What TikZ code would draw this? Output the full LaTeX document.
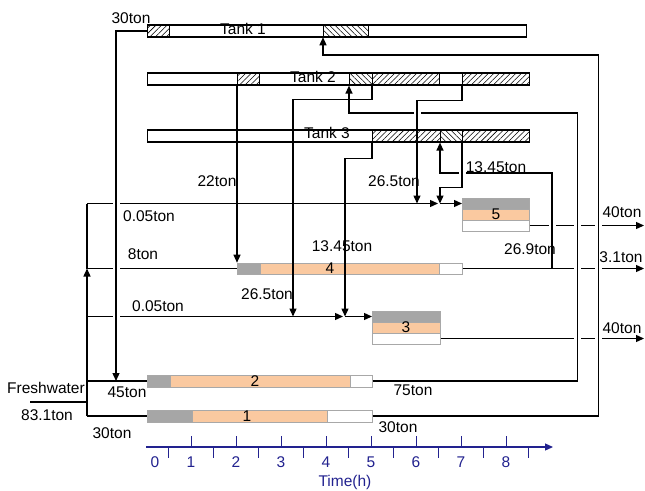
\documentclass[tikz,border=0pt]{standalone}
\usepackage{fontspec}
\setmainfont{Liberation Sans}
\usepackage{tikz}
\usetikzlibrary{arrows.meta,patterns.meta}
\definecolor{idlegray}{HTML}{A6A6A6}
\definecolor{runpeach}{HTML}{FAC9A0}
\definecolor{barline}{HTML}{A8A8A8}
\definecolor{axisblue}{HTML}{22228F}
\pgfdeclarelayer{front}
\pgfsetlayers{main,front}
\tikzset{
  tankbox/.style={draw,line width=1.2pt,minimum height=12pt,inner sep=0pt,anchor=west},
  fwdhatch/.style={tankbox,pattern={Lines[angle=45,distance=3.9pt,line width=0.55pt]}},
  bwdhatch/.style={tankbox,pattern={Lines[angle=-45,distance=3.9pt,line width=0.55pt]}},
  seg/.style={draw=barline,line width=0.6pt,inner sep=0pt,anchor=west},
  flow/.style={line width=1.3pt},
  bridge/.style={preaction={draw=white,line width=7pt,-,shorten <=6pt,shorten >=9pt}},
}

\begin{document}
\begin{tikzpicture}[x=1pt,y=-1pt,font=\fontsize{15.5pt}{18pt}\selectfont,>={Triangle[length=8pt,width=7pt]}]
  \useasboundingbox (0,0) rectangle (645,490);

  % storage tanks (kept on top)
  \begin{pgfonlayer}{front}
    \node[tankbox,minimum width=379pt] (tank1) at (147,31) {};
    \node[fwdhatch,minimum width=22pt] (t1a) at (147,31) {};
    \node[bwdhatch,minimum width=45pt] (t1b) at (323,31) {};
    \node[tankbox,minimum width=382pt] (tank2) at (147,79) {};
    \node[fwdhatch,minimum width=22pt] (t2a) at (237,79) {};
    \node[bwdhatch,minimum width=23pt] (t2b) at (349,79) {};
    \node[fwdhatch,minimum width=67pt] (t2c) at (372,79) {};
    \node[fwdhatch,minimum width=67pt] (t2d) at (462,79) {};
    \node[tankbox,minimum width=382pt] (tank3) at (147,136) {};
    \node[fwdhatch,minimum width=68pt] (t3a) at (372,136) {};
    \node[bwdhatch,minimum width=22pt] (t3b) at (440,136) {};
    \node[fwdhatch,minimum width=67pt] (t3c) at (462,136) {};
    \node (tk1) at (243,29) {Tank 1};
    \node (tk2) at (313,77) {Tank 2};
    \node (tk3) at (327,133) {Tank 3};
  \end{pgfonlayer}

  % units
  \node[seg,fill=idlegray,minimum width=45pt,minimum height=12pt] (u1g) at (147,416) {};
  \node[seg,fill=runpeach,minimum width=135pt,minimum height=12pt] (u1o) at (192,416) {};
  \node[seg,fill=white,minimum width=45pt,minimum height=12pt] (u1w) at (327,416) {};
  \node[seg,fill=idlegray,minimum width=23pt,minimum height=12pt] (u2g) at (147,381) {};
  \node[seg,fill=runpeach,minimum width=180pt,minimum height=12pt] (u2o) at (170,381) {};
  \node[seg,fill=white,minimum width=22pt,minimum height=12pt] (u2w) at (350,381) {};
  \node[seg,fill=idlegray,minimum width=23pt,minimum height=11pt] (u4g) at (237,268.5) {};
  \node[seg,fill=runpeach,minimum width=179pt,minimum height=11pt] (u4o) at (260,268.5) {};
  \node[seg,fill=white,minimum width=23pt,minimum height=11pt] (u4w) at (439,268.5) {};
  \node[seg,fill=idlegray,minimum width=68pt,minimum height=11pt] (u3g) at (372,316.5) {};
  \node[seg,fill=runpeach,minimum width=68pt,minimum height=11pt] (u3o) at (372,327.5) {};
  \node[seg,fill=white,minimum width=68pt,minimum height=11pt] (u3w) at (372,338.5) {};
  \node[seg,fill=idlegray,minimum width=67pt,minimum height=11pt] (u5g) at (462,203.5) {};
  \node[seg,fill=runpeach,minimum width=67pt,minimum height=11pt] (u5o) at (462,214.5) {};
  \node[seg,fill=white,minimum width=67pt,minimum height=11pt] (u5w) at (462,225.5) {};
  \node (n1) at (247,416) {1};
  \node (n2) at (255,381) {2};
  \node (n3) at (406,327.5) {3};
  \node (n4) at (330,268.5) {4};
  \node (n5) at (496,214.5) {5};

  \coordinate (fwin) at (30,402);
  \coordinate (sf) at (87,402);
  \coordinate (s1) at (87,416);
  \coordinate (s2) at (87,381);
  \coordinate (s3) at (87,316.5);
  \coordinate (s4) at (87,268.5);
  \coordinate (s5) at (87,203.5);
  \coordinate (a1) at (417,203.5);
  \coordinate (a2) at (293,316.5);
  \coordinate (a3) at (345,316.5);
  \coordinate (a4) at (440,203.5);
  \coordinate (a5) at (116,381);
  \coordinate (j4) at (552,268.5);
  \coordinate (o5) at (644,225.5);
  \coordinate (o4) at (644,268.5);
  \coordinate (o3) at (644,338.5);

  % freshwater and outlets
  \draw[flow] (fwin) -- (sf);
  \draw[flow] (s1) -- (s3);
  \draw[flow,->] (s3) -- (s4);
  \draw[flow] (s4) -- (s5);
  \draw[flow] (s1) -- (u1g.west);
  \draw[flow] (s2) -- (u2g.west);
  \draw[flow] (s4) -- (u4g.west);
  \draw[flow,->,shorten >=2pt] (s5) -- (a4);
  \draw[flow,->] (a4) -- (u5g.west);
  \draw[flow,->,shorten >=2pt] (s3) -- (a3);
  \draw[flow,->] (a3) -- (u3g.west);
  \draw[flow,->] (u5w.east) -- (o5);
  \draw[flow,->] (u4w.east) -- (o4);
  \draw[flow,->] (u3w.east) -- (o3);

  % reuse through the tanks
  \draw[flow,bridge,->] (u1w.east) -| ++(226,-361) -| (t1b.south west);
  \draw[flow,bridge,->] (u2w.east) -| ++(205,-268) -| (t2b.south west);
  \draw[flow,bridge,->] (j4) -- ++(0,-95.5) -| (t3b.south west);
  \draw[flow,bridge,->] (t1a.west) -| (a5);
  \draw[flow,bridge,->] (t3c.south west) -- ++(0,45) -| (a4);
  \draw[flow,bridge,->] (t2d.south west) -- ++(0,15) -| (a1);
  \draw[flow,->] (t2a.south west) -- (u4g.north west);
  \draw[flow,->] (t2c.south west) -- ++(0,14) -| (a2);
  \draw[flow,->] (t3a.south west) -- ++(0,16) -| (a3);

  % flow labels
  \node (w1) at (131,18) {30ton};
  \node (w2) at (217,181) {22ton};
  \node (w3) at (394,181) {26.5ton};
  \node (w4) at (496,167) {13.45ton};
  \node (w5) at (149,216) {0.05ton};
  \node (w6) at (143,254) {8ton};
  \node (w7) at (342,246) {13.45ton};
  \node (w8) at (267,294) {26.5ton};
  \node (w9) at (158,306) {0.05ton};
  \node (w10) at (530,249) {26.9ton};
  \node (w11) at (622,212) {40ton};
  \node (w12) at (621,257) {3.1ton};
  \node (w13) at (622,328) {40ton};
  \node (fw) at (46,388) {Freshwater};
  \node (w14) at (47,415) {83.1ton};
  \node (w15) at (127,392) {45ton};
  \node (w16) at (112,433) {30ton};
  \node (w17) at (413,390) {75ton};
  \node (w18) at (398,427) {30ton};

  % time axis
  \coordinate (t0) at (146,447);
  \coordinate (tend) at (553,447);
  \draw[axisblue,line width=1.2pt,->] (t0) -- (tend);
  \foreach \h in {1,...,8} {
    \draw[axisblue,line width=1pt] (146+45*\h,447) -- ++(0,-11);
    \node[axisblue] (h\h) at (146+45*\h,462) {\h};
  }
  \foreach \h in {0,...,8}
    \draw[axisblue,line width=1pt] (168.5+45*\h,447) -- ++(0,11);
  \node[axisblue] (h0) at (155,462) {0};
  \node[axisblue] (tlabel) at (345,482) {Time(h)};
\end{tikzpicture}
\end{document}
